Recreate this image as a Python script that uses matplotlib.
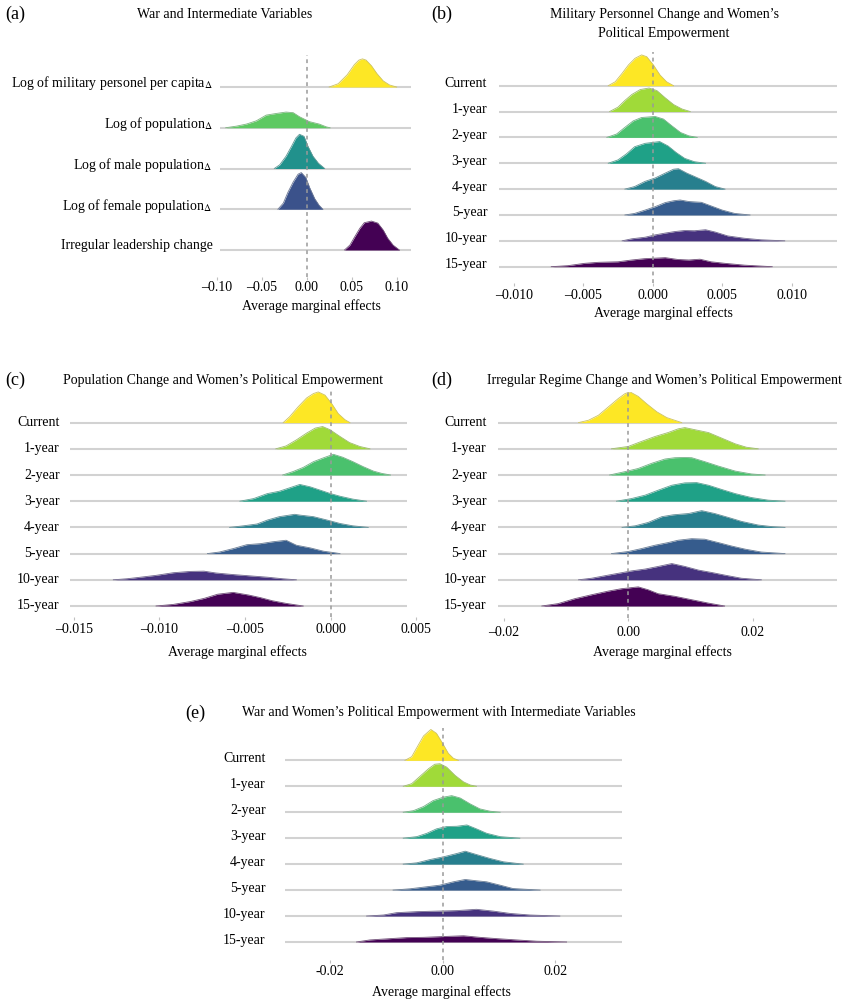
import matplotlib.pyplot as plt
import numpy as np

plt.rcParams['font.family'] = 'serif'
plt.rcParams['font.serif'] = ['Liberation Serif', 'DejaVu Serif']
plt.rcParams['mathtext.fontset'] = 'stix'

W, H = 849, 1001

years = ['Current', '1-year', '2-year', '3-year', '4-year', '5-year', '10-year', '15-year']
vars_a = ['Log of military personel per capita', 'Log of population',
          'Log of male population', 'Log of female population',
          'Irregular leadership change']

# ridge shapes: x positions and height (in row units)
ridges_a = [
    ([0.025, 0.035, 0.045, 0.053, 0.058, 0.062, 0.066, 0.072, 0.078, 0.085, 0.092, 0.100],
     [0, 0.08, 0.30, 0.55, 0.66, 0.69, 0.66, 0.52, 0.33, 0.15, 0.05, 0]),
    ([-0.090, -0.078, -0.067, -0.056, -0.045, -0.034, -0.023, -0.015, -0.008, 0.003, 0.014, 0.022, 0.026],
     [0, 0.04, 0.09, 0.17, 0.31, 0.35, 0.385, 0.37, 0.27, 0.15, 0.09, 0.02, 0]),
    ([-0.036, -0.030, -0.023, -0.017, -0.012, -0.008, -0.003, 0.0015, 0.007, 0.013, 0.020],
     [0, 0.09, 0.30, 0.54, 0.75, 0.84, 0.79, 0.54, 0.30, 0.13, 0]),
    ([-0.032, -0.026, -0.021, -0.015, -0.0096, -0.006, -0.001, 0.0033, 0.0089, 0.0137, 0.018],
     [0, 0.15, 0.41, 0.67, 0.86, 0.90, 0.78, 0.53, 0.26, 0.10, 0]),
    ([0.042, 0.048, 0.053, 0.059, 0.064, 0.072, 0.079, 0.085, 0.090, 0.096, 0.103],
     [0, 0.12, 0.31, 0.53, 0.67, 0.71, 0.66, 0.49, 0.29, 0.12, 0]),
]

ridges_b = [
    ([-0.0032, -0.0027, -0.0022, -0.00175, -0.00127, -0.0008, -0.00043, 0.00005, 0.00053, 0.001, 0.0015],
     [0, 0.15, 0.48, 0.80, 1.06, 1.19, 1.12, 0.80, 0.41, 0.15, 0]),
    ([-0.0031, -0.0025, -0.002, -0.0015, -0.0009, -0.00026, 0.0003, 0.0009, 0.0015, 0.0021, 0.0027],
     [0, 0.17, 0.43, 0.66, 0.85, 0.91, 0.81, 0.53, 0.27, 0.10, 0]),
    ([-0.0033, -0.0026, -0.002, -0.0014, -0.0008, 0.00017, 0.00077, 0.00137, 0.002, 0.0026, 0.0032],
     [0, 0.13, 0.39, 0.64, 0.77, 0.81, 0.71, 0.45, 0.19, 0.06, 0]),
    ([-0.0032, -0.0025, -0.0019, -0.0013, -0.00055, 0.0005, 0.0011, 0.0017, 0.0023, 0.003, 0.0038],
     [0, 0.13, 0.36, 0.64, 0.77, 0.84, 0.67, 0.41, 0.19, 0.06, 0]),
    ([-0.002, -0.0013, -0.00055, 0.00017, 0.0009, 0.0015, 0.00185, 0.00245, 0.003, 0.0038, 0.0045, 0.0052],
     [0, 0.10, 0.30, 0.43, 0.62, 0.77, 0.79, 0.62, 0.49, 0.30, 0.10, 0]),
    ([-0.002, -0.0013, -0.00055, 0.00017, 0.0009, 0.0015, 0.00197, 0.0026, 0.0035, 0.0042, 0.005, 0.0059, 0.007],
     [0, 0.06, 0.19, 0.32, 0.48, 0.55, 0.58, 0.52, 0.49, 0.35, 0.19, 0.06, 0]),
    ([-0.0022, -0.0015, -0.00055, 0.00017, 0.0009, 0.0016, 0.0023, 0.003, 0.0038, 0.0045, 0.0054, 0.0066, 0.0078, 0.0095],
     [0, 0.08, 0.14, 0.23, 0.30, 0.36, 0.40, 0.39, 0.43, 0.34, 0.19, 0.10, 0.04, 0]),
    ([-0.0073, -0.0061, -0.0049, -0.0039, -0.0025, -0.0015, -0.0006, 0.0009, 0.0018, 0.0026, 0.0034, 0.0042, 0.0052, 0.0066, 0.0086],
     [0, 0.04, 0.13, 0.17, 0.19, 0.26, 0.31, 0.35, 0.28, 0.26, 0.29, 0.19, 0.13, 0.06, 0]),
]

ridges_c = [
    ([-0.00277, -0.0024, -0.0019, -0.0014, -0.001, -0.00072, -0.00033, 0.00006, 0.00045, 0.00084, 0.00113],
     [0, 0.22, 0.60, 0.94, 1.11, 1.17, 1.05, 0.73, 0.34, 0.11, 0]),
    ([-0.0032, -0.0026, -0.002, -0.0014, -0.0009, -0.00047, -0.00004, 0.00055, 0.0011, 0.0017, 0.0023],
     [0, 0.11, 0.34, 0.60, 0.79, 0.85, 0.73, 0.47, 0.24, 0.09, 0]),
    ([-0.0028, -0.0022, -0.0016, -0.001, -0.0004, 0.00016, 0.0007, 0.0013, 0.0019, 0.0025, 0.003, 0.0035],
     [0, 0.13, 0.29, 0.51, 0.66, 0.79, 0.68, 0.51, 0.32, 0.15, 0.06, 0]),
    ([-0.0053, -0.0045, -0.0037, -0.003, -0.0024, -0.0018, -0.0012, -0.0006, 0.0, 0.00055, 0.0013, 0.0021],
     [0, 0.10, 0.29, 0.38, 0.51, 0.64, 0.55, 0.42, 0.29, 0.19, 0.08, 0]),
    ([-0.0059, -0.0051, -0.0043, -0.0037, -0.003, -0.0024, -0.0021, -0.0018, -0.001, -0.0002, 0.00055, 0.0013, 0.0022],
     [0, 0.06, 0.13, 0.28, 0.41, 0.47, 0.50, 0.47, 0.41, 0.28, 0.15, 0.06, 0]),
    ([-0.0072, -0.0065, -0.0057, -0.0049, -0.0041, -0.0034, -0.0026, -0.002, -0.0012, -0.0004, 0.00016, 0.00055],
     [0, 0.06, 0.19, 0.34, 0.38, 0.45, 0.51, 0.32, 0.22, 0.09, 0.04, 0]),
    ([-0.0127, -0.0119, -0.0111, -0.0102, -0.0092, -0.0082, -0.0074, -0.0067, -0.0057, -0.0047, -0.0037, -0.0028, -0.002],
     [0, 0.04, 0.10, 0.17, 0.27, 0.32, 0.33, 0.26, 0.20, 0.15, 0.10, 0.04, 0]),
    ([-0.0102, -0.0092, -0.0082, -0.0074, -0.0066, -0.0057, -0.0048, -0.0041, -0.0034, -0.0026, -0.0016],
     [0, 0.06, 0.17, 0.29, 0.45, 0.52, 0.42, 0.32, 0.20, 0.10, 0]),
]

ridges_d = [
    ([-0.008, -0.0064, -0.0048, -0.0032, -0.0016, -0.0005, 0.0003, 0.0016, 0.0029, 0.0046, 0.0062, 0.0086],
     [0, 0.09, 0.28, 0.60, 0.92, 1.11, 1.17, 1.00, 0.73, 0.41, 0.19, 0]),
    ([-0.0027, 0.0, 0.0021, 0.0043, 0.0064, 0.008, 0.0091, 0.0107, 0.0129, 0.015, 0.0172, 0.019, 0.0209],
     [0, 0.09, 0.28, 0.47, 0.62, 0.76, 0.81, 0.73, 0.62, 0.41, 0.19, 0.06, 0]),
    ([-0.003, -0.0005, 0.0016, 0.0038, 0.0059, 0.0075, 0.0091, 0.0102, 0.0123, 0.0145, 0.0172, 0.0198, 0.022],
     [0, 0.13, 0.25, 0.45, 0.61, 0.66, 0.67, 0.66, 0.51, 0.34, 0.15, 0.04, 0]),
    ([-0.0019, 0.0005, 0.0027, 0.0048, 0.007, 0.0091, 0.011, 0.0129, 0.015, 0.0172, 0.0198, 0.0225, 0.0252],
     [0, 0.10, 0.23, 0.42, 0.61, 0.70, 0.71, 0.61, 0.45, 0.29, 0.14, 0.04, 0]),
    ([-0.001, 0.0011, 0.0032, 0.0054, 0.0072, 0.0097, 0.0118, 0.0139, 0.0161, 0.0182, 0.0209, 0.0231, 0.0252],
     [0, 0.06, 0.19, 0.41, 0.48, 0.53, 0.64, 0.53, 0.38, 0.23, 0.09, 0.03, 0]),
    ([-0.0027, 0.0, 0.0021, 0.0043, 0.0064, 0.008, 0.0102, 0.0123, 0.0145, 0.0166, 0.0188, 0.0214, 0.0252],
     [0, 0.08, 0.19, 0.32, 0.42, 0.51, 0.57, 0.55, 0.42, 0.29, 0.17, 0.06, 0]),
    ([-0.008, -0.0059, -0.0032, -0.0011, 0.0005, 0.0027, 0.0048, 0.007, 0.0091, 0.0113, 0.0134, 0.0155, 0.0182, 0.0214],
     [0, 0.06, 0.18, 0.27, 0.34, 0.41, 0.51, 0.62, 0.51, 0.37, 0.28, 0.18, 0.06, 0]),
    ([-0.0139, -0.0113, -0.0086, -0.0059, -0.0032, -0.0011, 0.0016, 0.0032, 0.0048, 0.0075, 0.0102, 0.0129, 0.0155],
     [0, 0.09, 0.28, 0.43, 0.57, 0.66, 0.73, 0.62, 0.47, 0.37, 0.24, 0.11, 0]),
]

ridges_e = [
    ([-0.0067, -0.0055, -0.0043, -0.0034, -0.0021, -0.0011, 0.0, 0.001, 0.0019, 0.0028],
     [0, 0.14, 0.60, 0.94, 1.19, 1.04, 0.65, 0.27, 0.08, 0]),
    ([-0.007, -0.0055, -0.004, -0.0025, -0.0014, -0.0005, 0.0007, 0.0022, 0.0037, 0.0049, 0.006],
     [0, 0.10, 0.39, 0.68, 0.85, 0.87, 0.74, 0.42, 0.17, 0.05, 0]),
    ([-0.007, -0.0052, -0.0034, -0.0017, 0.0001, 0.0016, 0.0031, 0.0049, 0.0066, 0.0084, 0.0102],
     [0, 0.06, 0.22, 0.45, 0.58, 0.64, 0.55, 0.32, 0.13, 0.04, 0]),
    ([-0.007, -0.0046, -0.0028, -0.0011, 0.0007, 0.0025, 0.0043, 0.006, 0.0078, 0.0102, 0.0137],
     [0, 0.06, 0.19, 0.36, 0.45, 0.46, 0.51, 0.36, 0.19, 0.06, 0]),
    ([-0.007, -0.0046, -0.0022, 0.0001, 0.0025, 0.004, 0.006, 0.0084, 0.0108, 0.0143],
     [0, 0.05, 0.18, 0.28, 0.41, 0.50, 0.37, 0.22, 0.09, 0]),
    ([-0.0088, -0.0058, -0.0028, -0.0005, 0.0019, 0.004, 0.006, 0.0078, 0.0102, 0.0125, 0.0173],
     [0, 0.05, 0.13, 0.19, 0.32, 0.41, 0.36, 0.32, 0.19, 0.06, 0]),
    ([-0.0135, -0.0105, -0.0082, -0.0046, -0.0011, 0.0025, 0.006, 0.009, 0.012, 0.0155, 0.0208],
     [0, 0.04, 0.13, 0.17, 0.19, 0.21, 0.26, 0.19, 0.10, 0.04, 0]),
    ([-0.0153, -0.0129, -0.0093, -0.0064, -0.0034, 0.0, 0.0037, 0.0066, 0.0096, 0.0131, 0.0167, 0.022],
     [0, 0.08, 0.13, 0.17, 0.18, 0.21, 0.24, 0.18, 0.13, 0.08, 0.03, 0]),
]

ticks_a = [-0.10, -0.05, 0.00, 0.05, 0.10]
ticks_b = [-0.010, -0.005, 0.000, 0.005, 0.010]
ticks_c = [-0.015, -0.010, -0.005, 0.000, 0.005]
ticks_d = [-0.02, 0.00, 0.02]
ticks_e = [-0.02, 0.00, 0.02]
ticklabels_e = ['-0.02', '0.00', '0.02']

FS = 10


def fig_px(x, y):
    """像素坐标 -> figure 坐标"""
    return x / W, 1 - y / H


def ridge_panel(fig, ridges, labels, box, xlim, line_x, base_px, gap,
                ticks, ticklabels=None, fmt='{:.2f}', label_pad=10, label_dy=3,
                tick_y=None):
    left, right, top, bottom = box
    n = len(ridges)
    ax = fig.add_axes([left / W, 1 - bottom / H, (right - left) / W, (bottom - top) / H])
    # y 以行间距为单位, 最下一行基线为 0
    ax.set_ylim(-(bottom - base_px) / gap, (base_px - top) / gap)
    ax.set_xlim(*xlim)
    colors = plt.cm.viridis(np.linspace(0, 1, n))[::-1]
    grey = np.array([0.62, 0.62, 0.62, 1.0])
    for k, (xs, hs) in enumerate(ridges):
        y0 = n - 1 - k
        z = 2 + k
        ax.plot(line_x, [y0, y0], color='#d2d2d2', lw=1.5, zorder=z, solid_capstyle='butt')
        ax.fill_between(xs, y0, np.array(hs) + y0, color=colors[k], lw=0, zorder=z)
        # 轮廓: 填充色和灰色混合, 深色的几乎看不出
        edge = 0.5 * colors[k] + 0.5 * grey
        ax.plot(xs, np.array(hs) + y0, color=edge, lw=0.6, zorder=z)
    ax.axvline(0, color='#9a9a9a', lw=1.1, ls=(0, (2.5, 2.5)), zorder=50)
    for s in ax.spines.values():
        s.set_visible(False)
    ax.set_yticks([n - 1 - k + label_dy / gap for k in range(n)])
    ax.set_yticklabels(labels, fontsize=FS)
    ax.tick_params(axis='y', length=0, pad=label_pad)
    ax.set_xticks(ticks)
    if ticklabels is None:
        ticklabels = [fmt.format(t).replace('-', '\u2013') for t in ticks]
    ax.set_xticklabels(ticklabels, fontsize=FS)
    ax.tick_params(axis='x', length=2, width=0.8, color='#c0c0c0',
                   pad=(tick_y - bottom - 7) * 0.72)
    ax.patch.set_alpha(0)
    return ax


fig = plt.figure(figsize=(W / 100, H / 100), dpi=100)

# (a)
labels_a = [v + r'$_{\Delta}$' for v in vars_a[:4]] + [vars_a[4]]
ridge_panel(fig, ridges_a, labels_a, (216.7, 411.7, 55, 277), (-0.10, 0.1167),
            [-0.0963, 0.1163], 250, 40.75, ticks_a, label_pad=3, label_dy=6, tick_y=285)
# (b)
ridge_panel(fig, ridges_b, years, (499, 837, 52, 283), (-0.01106, 0.01326),
            [-0.01106, 0.01326], 266.7, 25.86, ticks_b, fmt='{:.3f}',
            label_pad=8.5, label_dy=3.5, tick_y=293.5)
# (c)
ridge_panel(fig, ridges_c, years, (70, 417, 388, 617), (-0.01523, 0.00505),
            [-0.01523, 0.00446], 606, 26.2, ticks_c, fmt='{:.3f}',
            label_pad=7.5, label_dy=1.5, tick_y=627)
# (d)
ridge_panel(fig, ridges_d, years, (497.7, 836.7, 392, 618), (-0.0210, 0.03352),
            [-0.0210, 0.03352], 606, 26.2, ticks_d, fmt='{:.2f}',
            label_pad=8, label_dy=1.5, tick_y=630)
# (e)
ridge_panel(fig, ridges_e, years, (285, 622.3, 728, 960), (-0.02799, 0.03189),
            [-0.02799, 0.03189], 942, 25.95, ticks_e, ticklabels=ticklabels_e,
            label_pad=14, label_dy=3, tick_y=969.5)

# 标题和轴标题
titles = [
    ('War and Intermediate Variables', 224.2, 14),
    ('Military Personnel Change and Women\u2019s\nPolitical Empowerment', 664, 24),
    ('Population Change and Women\u2019s Political Empowerment', 223.5, 380.7),
    ('Irregular Regime Change and Women\u2019s Political Empowerment', 664.5, 380.7),
    ('War and Women\u2019s Political Empowerment with Intermediate Variables', 438.7, 712.7),
]
for t, x, y in titles:
    fig.text(*fig_px(x, y), t, fontsize=FS, ha='center', va='center', linespacing=1.65)

xlabels = [(311.7, 306), (663, 312.7), (237.5, 651.7), (662.5, 651.7), (441, 991.7)]
for x, y in xlabels:
    fig.text(*fig_px(x, y), 'Average marginal effects', fontsize=FS, ha='center', va='center')

tags = [('(a)', 5, 14), ('(b)', 431, 14), ('(c)', 5, 380), ('(d)', 431, 380), ('(e)', 185, 713)]
for t, x, y in tags:
    fig.text(*fig_px(x, y), t, fontsize=13, ha='left', va='center')

plt.savefig('out.png', dpi=100)
plt.close(fig)
